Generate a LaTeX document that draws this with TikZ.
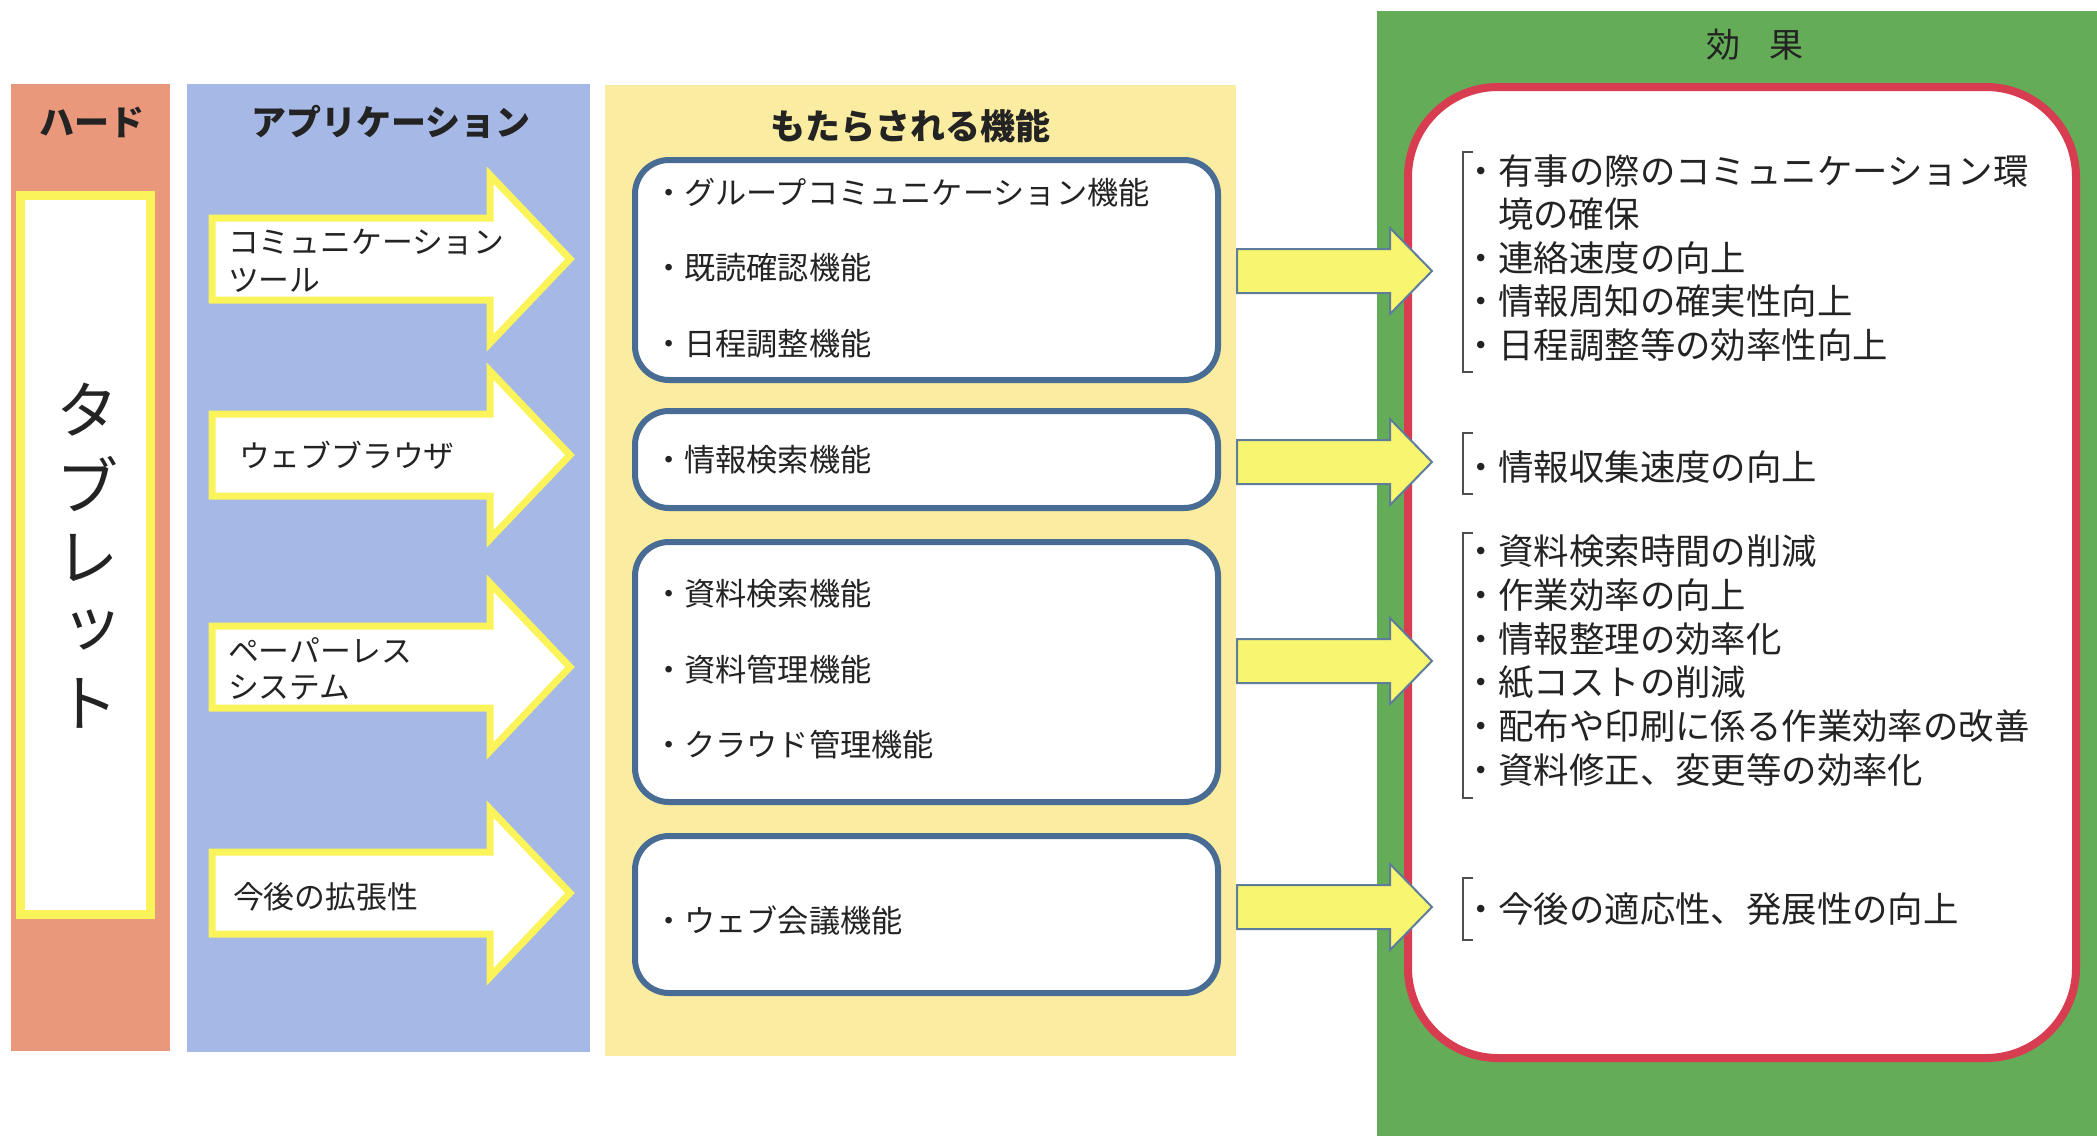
\documentclass[tikz,border=0pt]{standalone}
\usepackage{fontspec}
\setmainfont{Noto Sans CJK JP}
\definecolor{colOrange}{RGB}{234,152,124}
\definecolor{colBlue}{RGB}{166,184,230}
\definecolor{colYellow}{RGB}{250,236,160}
\definecolor{colGreen}{RGB}{100,172,88}
\definecolor{colRed}{RGB}{215,60,80}
\definecolor{boxBlue}{RGB}{72,108,148}
\definecolor{arrFill}{RGB}{248,246,110}
\definecolor{arrLine}{RGB}{95,125,155}
\definecolor{brightYellow}{RGB}{250,244,90}
\definecolor{txt}{RGB}{35,35,35}
\begin{document}
\begin{tikzpicture}[x=0.5pt,y=-0.5pt,
  every node/.style={inner sep=0pt, outer sep=0pt, text=txt},
  head/.style={font=\bfseries\fontsize{17.5}{20}\selectfont},
  tabtxt/.style={font=\fontsize{31}{34}\selectfont},
  funcbox/.style={draw=boxBlue, line width=3pt, fill=white, rounded corners=17pt},
  functxt/.style={anchor=west, font=\fontsize{15.6}{18}\selectfont},
  arrtxt/.style={anchor=west, font=\fontsize{15.4}{18}\selectfont},
  efftxt/.style={anchor=west, font=\fontsize{17.7}{21}\selectfont},
  bracketline/.style={draw=txt!80, line width=0.8pt},
  warrowstyle/.style={draw=brightYellow, fill=white, line width=3.5pt, line join=miter},
  yarrowstyle/.style={draw=arrLine, fill=arrFill, line width=1pt, line join=miter},
  warrow/.pic={\path[warrowstyle] (212,-41) -- (490,-41) -- (490,-84) -- (570,0) -- (490,84) -- (490,41) -- (212,41) -- cycle;},
  yarrow/.pic={\path[yarrowstyle] (1237,-22) -- (1390,-22) -- (1390,-43) -- (1432,0) -- (1390,43) -- (1390,22) -- (1237,22) -- cycle;}
]
\useasboundingbox (0,0) rectangle (2097,1136);
\fill[white] (0,0) rectangle (2097,1136);

% columns
\fill[colOrange] (11,84) rectangle (170,1051);
\fill[colBlue] (187,84) rectangle (590,1052);
\fill[colYellow] (605,85) rectangle (1236,1056);
\fill[colGreen] (1377,11) rectangle (2097,1136);

% headers
\node[head] (hHard) at (92,122) {ハード};
\node[head] (hApp) at (391,122) {アプリケーション};
\node[head] (hFunc) at (910,126) {もたらされる機能};
\node[font=\fontsize{17}{20}\selectfont] (hEff) at (1755,45) {効\hspace{0.85em}果};

% tablet
\draw[line width=4.5pt, draw=brightYellow, fill=white] (20,195) rectangle (150,914);
\node[tabtxt] (t1) at (87,410) {タ};
\node[tabtxt] (t2) at (87,484) {ブ};
\node[tabtxt] (t3) at (87,558) {レ};
\node[tabtxt] (t4) at (92,630) {ッ};
\node[tabtxt] (t5) at (87,703) {ト};

% white arrows
\pic at (0,259) {warrow};
\pic at (0,455) {warrow};
\pic at (0,667) {warrow};
\pic at (0,893) {warrow};
\node[arrtxt] (a1a) at (228,242) {コミュニケーション};
\node[arrtxt] (a1b) at (228,280) {ツール};
\node[arrtxt] (a2) at (239,455) {ウェブブラウザ};
\node[arrtxt] (a3a) at (228,650) {ペーパーレス};
\node[arrtxt] (a3b) at (228,687) {システム};
\node[arrtxt] (a4) at (233,897) {今後の拡張性};

% function boxes
\draw[funcbox] (635,160) rectangle (1218,380);
\draw[funcbox] (635,411) rectangle (1218,508);
\draw[funcbox] (635,542) rectangle (1218,802);
\draw[funcbox] (635,836) rectangle (1218,993);
\node[functxt] (f1) at (653,193) {・グループコミュニケーション機能};
\node[functxt] (f2) at (653,268) {・既読確認機能};
\node[functxt] (f3) at (653,344) {・日程調整機能};
\node[functxt] (f4) at (653,460) {・情報検索機能};
\node[functxt] (f5) at (653,594) {・資料検索機能};
\node[functxt] (f6) at (653,670) {・資料管理機能};
\node[functxt] (f7) at (653,745) {・クラウド管理機能};
\node[functxt] (f8) at (653,920) {・ウェブ会議機能};

% effects box
\draw[line width=4pt, draw=colRed, fill=white, rounded corners=45pt] (1408,87) rectangle (2076,1058);

% yellow arrows
\pic at (0,271) {yarrow};
\pic at (0,462) {yarrow};
\pic at (0,661) {yarrow};
\pic at (0,907) {yarrow};

% effect texts
\draw[bracketline] (1473,152) -- (1463,152) -- (1463,372) -- (1473,372);
\node[efftxt] (e1) at (1463,171) {・有事の際のコミュニケーション環};
\node[efftxt] (e2) at (1498,214.5) {境の確保};
\node[efftxt] (e3) at (1463,258) {・連絡速度の向上};
\node[efftxt] (e4) at (1463,301.5) {・情報周知の確実性向上};
\node[efftxt] (e5) at (1463,345) {・日程調整等の効率性向上};

\draw[bracketline] (1473,433) -- (1463,433) -- (1463,494) -- (1473,494);
\node[efftxt] (e6) at (1463,467) {・情報収集速度の向上};

\draw[bracketline] (1473,533) -- (1463,533) -- (1463,798) -- (1473,798);
\node[efftxt] (e7) at (1463,551) {・資料検索時間の削減};
\node[efftxt] (e8) at (1463,595) {・作業効率の向上};
\node[efftxt] (e9) at (1463,639) {・情報整理の効率化};
\node[efftxt] (e10) at (1463,682) {・紙コストの削減};
\node[efftxt] (e11) at (1463,726) {・配布や印刷に係る作業効率の改善};
\node[efftxt] (e12) at (1463,770) {・資料修正、変更等の効率化};

\draw[bracketline] (1473,878) -- (1463,878) -- (1463,940) -- (1473,940);
\node[efftxt] (e13) at (1463,909) {・今後の適応性、発展性の向上};
\end{tikzpicture}
\end{document}
